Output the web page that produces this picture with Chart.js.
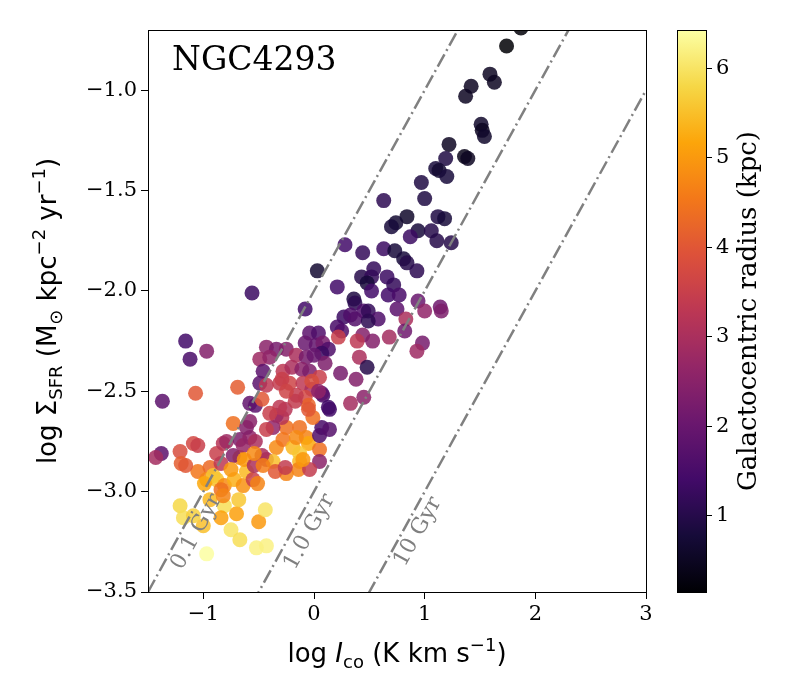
<!DOCTYPE html>
<html lang="en">
<head>
<meta charset="UTF-8">
<title>NGC4293</title>
<style>
  html, body { margin: 0; padding: 0; background: #fff; }
  #wrap { width: 800px; height: 700px; }
</style>
</head>
<body>
<div id="wrap"><canvas id="myChart" width="800" height="700"></canvas></div>
<script src="https://cdn.jsdelivr.net/npm/chart.js"></script>
<script>
// log I_CO, log Sigma_SFR, galactocentric radius (kpc)
var logIco = [
  1.87, 1.74, 1.59, 1.63, 1.42, 1.37, 1.51, 1.52, 1.54, 1.22, 1.19, 1.36, 1.39, 1.10, 1.13, 1.20, 0.97, 1.00, 0.63, 0.84,
  0.74, 0.70, 1.12, 1.18, 0.94, 0.87, 1.06, 1.11, 1.24, 0.28, 0.44, 0.63, 0.73,
  -0.56, 0.03, 0.81, 0.84, 0.93, 0.54, 0.43, 0.52, 0.48, 0.66, 0.72, 0.52, 0.67, 0.77, 0.21, 0.36, 0.37, -0.08, 0.45, 0.49,
  0.58, 0.75, 0.27, 0.33, 0.37, 0.49, 0.21, 0.25, 0.22, 0.94, 1.00, 1.14, 1.15, 0.83, 0.82, 0.68, 0.53, 0.44, 0.39, 0.98,
  0.93, 0.41, 0.48, 0.24, 0.38, 0.45, 0.33, -0.04, 0.04, -0.08, 0.02, 0.08, 0.13, -0.43, -0.34, -0.25, -0.16, -0.49, -0.40,
  -0.07, 0.07, 0.10, -0.46, -0.28, -0.20, -0.11, -0.04, 0.05, -0.49, -0.43, -0.31, -0.22, -0.10, -0.02, 0.08, 0.13, -0.58,
  -0.53, -0.08, -0.05,
  -1.16, -1.12, -0.97, -1.37, -1.07, -0.69, -1.38, -1.43, -1.21, -1.20, -1.09, -1.05, -1.05, -0.94, -0.97, -0.88, -0.82,
  -0.88, -0.91, -0.81, -0.72, -0.64, -0.67, -0.61, -0.55, -0.51, -0.73, -0.73, -0.79, -0.67, -0.64, -0.58, -0.53, -0.61,
  -0.58, -0.47, -0.43, -0.34, -0.37, -0.25, -0.28, -0.19, -0.13, -0.14, -0.25, -0.13, -0.07, -0.05, 0.05, 0.07, 0.05, 0.14,
  -0.01, 0.07, -0.29, -0.37, -0.43, -1.21, -1.18, -1.00, -1.09, -0.94, -0.81, -0.84, -0.70, -0.68, -0.75, -0.67, -0.50,
  -0.44, -0.52, -0.43, -0.97,
  -0.34, -0.26, -0.17, -0.05, -1.16, -0.84, -0.63, -0.75, -0.54, -0.99, -0.84, -0.82, -0.35, -0.26, -0.04, -0.47,
  0.00, -0.29, -0.02, -0.16, -0.25, -0.31, -0.40, 0.05, -0.16, -0.13, -0.10, -0.54, -0.46, 0.04, 0.14
];
var logSfr = [
  -0.69, -0.78, -0.92, -0.96, -0.98, -1.03, -1.17, -1.20, -1.23, -1.27, -1.34, -1.33, -1.34, -1.39, -1.40, -1.43, -1.46, -1.54, -1.55, -1.63,
  -1.66, -1.68, -1.63, -1.64, -1.70, -1.73, -1.70, -1.75, -1.76, -1.77, -1.81, -1.79, -1.80,
  -2.01, -1.90, -1.84, -1.86, -1.90, -1.89, -1.93, -1.93, -1.96, -1.93, -1.97, -2.00, -2.02, -2.02, -1.98, -2.04, -2.06, -2.09, -2.10, -2.10,
  -2.14, -2.09, -2.13, -2.12, -2.14, -2.15, -2.18, -2.20, -2.23, -2.05, -2.10, -2.08, -2.10, -2.14, -2.20, -2.23, -2.25, -2.22, -2.25, -2.26,
  -2.30, -2.33, -2.38, -2.41, -2.44, -2.53, -2.56, -2.21, -2.21, -2.26, -2.27, -2.26, -2.29, -2.28, -2.29, -2.29, -2.32, -2.34, -2.33,
  -2.33, -2.31, -2.36, -2.40, -2.40, -2.38, -2.39, -2.40, -2.43, -2.46, -2.47, -2.46, -2.46, -2.46, -2.49, -2.52, -2.58, -2.56,
  -2.57, -2.53, -2.57,
  -2.25, -2.34, -2.30, -2.55, -2.51, -2.48, -2.81, -2.83, -2.80, -2.86, -2.76, -2.77, -2.90, -2.88, -2.94, -2.81, -2.76,
  -2.94, -2.92, -2.97, -2.94, -2.97, -2.83, -2.90, -2.94, -2.96, -2.66, -2.82, -2.75, -2.74, -2.77, -2.73, -2.75, -2.68,
  -2.65, -2.54, -2.84, -2.78, -2.85, -2.68, -2.74, -2.78, -2.85, -2.89, -2.91, -2.68, -2.73, -2.76, -2.79, -2.68, -2.85, -2.59,
  -2.63, -2.51, -2.63, -2.68, -2.69, -3.07, -3.13, -3.17, -3.12, -3.04, -3.07, -3.13, -3.11, -3.04, -3.19, -3.24, -3.15,
  -3.09, -3.28, -3.27, -3.31,
  -2.62, -2.59, -2.55, -2.59, -2.87, -2.86, -2.84, -2.89, -2.87, -2.96, -2.99, -3.02, -2.90, -2.88, -2.89, -2.82,
  -2.32, -2.44, -2.45, -2.52, -2.50, -2.58, -2.61, -2.72, -2.73, -2.81, -2.84, -2.81, -2.87, -2.50, -2.69
];
var radius = [
  0.2, 0.15, 0.5, 0.5, 0.5, 0.5, 0.6, 0.5, 0.6, 0.5, 0.9, 0.4, 0.5, 0.8, 0.7, 0.8, 0.9, 0.9, 1.1, 0.6,
  0.7, 0.8, 0.9, 0.8, 0.8, 1.3, 1.0, 1.0, 1.0, 1.4, 1.2, 1.3, 0.8,
  1.3, 0.7, 0.8, 1.0, 1.1, 1.2, 1.0, 1.2, 0.8, 1.3, 1.2, 1.4, 1.4, 1.5, 1.4, 0.9, 1.1, 1.4, 1.6, 1.2,
  1.6, 1.8, 1.3, 1.6, 1.7, 1.1, 1.5, 1.6, 3.5, 2.0, 2.6, 2.1, 2.3, 3.0, 2.1, 2.9, 2.4, 2.4, 3.3, 2.2,
  2.8, 3.0, 1.0, 2.2, 2.4, 2.5, 2.9, 1.8, 1.6, 2.0, 1.9, 2.2, 1.6, 2.5, 2.2, 2.4, 3.0, 2.8, 2.6,
  2.2, 1.3, 2.3, 1.8, 3.3, 3.0, 2.5, 2.3, 3.5, 1.8, 3.3, 3.4, 3.6, 3.3, 3.0, 1.5, 1.4, 1.9,
  1.8, 3.7, 4.2,
  1.4, 1.5, 2.4, 1.8, 4.0, 4.1, 1.8, 2.9, 3.8, 4.1, 3.7, 3.5, 4.5, 4.3, 4.7, 3.5, 3.2,
  5.5, 5.6, 4.8, 5.3, 4.9, 4.8, 5.4, 3.5, 4.7, 4.4, 2.4, 2.8, 2.3, 2.7, 2.6, 3.0, 2.4,
  2.5, 4.0, 3.0, 4.8, 5.5, 4.4, 4.5, 5.4, 5.4, 4.7, 4.7, 4.4, 4.7, 5.2, 4.4, 1.5, 2.5, 1.4,
  4.4, 1.8, 3.2, 2.6, 3.5, 5.8, 5.9, 5.5, 5.7, 5.4, 5.9, 5.1, 5.1, 5.6, 6.0, 5.9, 5.0,
  6.0, 6.2, 6.2, 6.4,
  2.8, 3.2, 3.4, 4.0, 4.0, 3.3, 5.0, 5.0, 3.0, 5.2, 4.4, 4.7, 4.0, 3.4, 3.4, 3.0,
  2.0, 3.5, 3.8, 3.4, 3.6, 3.3, 3.5, 1.6, 4.8, 5.6, 5.0, 4.8, 4.6, 2.6, 1.7
];

// constant depletion time lines: log S_SFR = log I_CO - k
var depletionOffset = [2, 3, 4];
var depletionLabels = ['0.1 Gyr', '1.0 Gyr', '10 Gyr'];
var labelX = [-1.06, -0.04, 0.94];
var labelY = [-3.20, -3.20, -3.20];

var xTicks = [-1, 0, 1, 2, 3];
var yTicks = [-3.5, -3.0, -2.5, -2.0, -1.5, -1.0];
var cbarTicks = [1, 2, 3, 4, 5, 6];
var rMin = 0.14, rMax = 6.42;

// inferno, sampled every 0.1
var inferno = [
  [0, 0, 4], [22, 11, 57], [66, 10, 104], [106, 23, 110], [147, 38, 103], [188, 55, 84],
  [221, 81, 58], [243, 120, 25], [252, 165, 10], [246, 215, 70], [252, 255, 164]
];
function cmap(t) {
  t = Math.max(0, Math.min(1, t));
  var s = t * 10, i = Math.min(9, Math.floor(s)), f = s - i;
  var a = inferno[i], b = inferno[i + 1];
  return [0, 1, 2].map(function (k) { return Math.round(a[k] + (b[k] - a[k]) * f); });
}
function rgba(c, al) { return 'rgba(' + c[0] + ',' + c[1] + ',' + c[2] + ',' + al + ')'; }

var points = logIco.map(function (x, i) { return { x: x, y: logSfr[i] }; });
var colors = radius.map(function (r) { return rgba(cmap((r - rMin) / (rMax - rMin)), 0.85); });

var lineSets = depletionOffset.map(function (k) {
  return {
    type: 'line',
    data: [{ x: -1.5, y: -1.5 - k }, { x: 3, y: 3 - k }],
    borderColor: '#808080',
    borderWidth: 2.5,
    borderDash: [14, 4, 2, 4],
    pointRadius: 0,
    fill: false,
    order: 0
  };
});

function fmt(v) { return String(v).replace('-', '\u2212'); }

function drawRich(ctx, parts, x, y) {
  var w = 0;
  parts.forEach(function (p) { ctx.font = p.f; p.w = ctx.measureText(p.t).width; w += p.w; });
  var cx = x - w / 2;
  parts.forEach(function (p) { ctx.font = p.f; ctx.fillText(p.t, cx, y + (p.dy || 0)); cx += p.w; });
}

var SANS = '"DejaVu Sans"', SERIF = '"DejaVu Serif"';

var extras = {
  id: 'extras',
  afterDatasetsDraw: function (chart) {
    var ctx = chart.ctx, a = chart.chartArea, xs = chart.scales.x, ys = chart.scales.y;
    ctx.save();
    // frame
    ctx.strokeStyle = '#000';
    ctx.lineWidth = 1;
    ctx.strokeRect(a.left + 0.5, a.top + 0.5, a.right - a.left, a.bottom - a.top);

    // depletion time labels
    var slope = (ys.getPixelForValue(-3) - ys.getPixelForValue(-2)) / (xs.getPixelForValue(0) - xs.getPixelForValue(1));
    var ang = -Math.atan(Math.abs(slope));
    ctx.fillStyle = '#808080';
    ctx.font = '22px ' + SERIF;
    ctx.textAlign = 'center';
    ctx.textBaseline = 'middle';
    depletionLabels.forEach(function (t, i) {
      ctx.save();
      ctx.translate(xs.getPixelForValue(labelX[i]), ys.getPixelForValue(labelY[i]));
      ctx.rotate(ang);
      ctx.fillText(t, 0, 0);
      ctx.restore();
    });

    // galaxy name
    ctx.fillStyle = '#000';
    ctx.textAlign = 'left';
    ctx.textBaseline = 'alphabetic';
    ctx.font = '33px ' + SERIF;
    ctx.fillText('NGC4293', a.left + 24, a.top + 40);

    // axis labels
    var big = '26px ' + SANS, sm = '18px ' + SANS;
    drawRich(ctx, [
      { t: 'log ', f: big },
      { t: 'I', f: 'italic ' + big },
      { t: 'co', f: sm, dy: 6 },
      { t: ' (K km s', f: big },
      { t: '\u22121', f: sm, dy: -11 },
      { t: ')', f: big }
    ], (a.left + a.right) / 2, 662);

    ctx.save();
    ctx.translate(47, (a.top + a.bottom) / 2);
    ctx.rotate(-Math.PI / 2);
    drawRich(ctx, [
      { t: 'log \u03a3', f: big },
      { t: 'SFR', f: sm, dy: 6 },
      { t: ' (M', f: big },
      { t: '\u2299', f: sm, dy: 6 },
      { t: ' kpc', f: big },
      { t: '\u22122', f: sm, dy: -11 },
      { t: ' yr', f: big },
      { t: '\u22121', f: sm, dy: -11 },
      { t: ')', f: big }
    ], 0, 9);
    ctx.restore();

    // colorbar
    var cb = { left: 677, right: 706, top: a.top, bottom: a.bottom };
    var g = ctx.createLinearGradient(0, cb.bottom, 0, cb.top);
    for (var k = 0; k <= 20; k++) g.addColorStop(k / 20, rgba(cmap(k / 20), 1));
    ctx.fillStyle = g;
    ctx.fillRect(cb.left, cb.top, cb.right - cb.left, cb.bottom - cb.top);
    ctx.strokeStyle = '#000';
    ctx.strokeRect(cb.left + 0.5, cb.top + 0.5, cb.right - cb.left, cb.bottom - cb.top);
    ctx.fillStyle = '#000';
    ctx.font = '21px ' + SERIF;
    ctx.textBaseline = 'middle';
    ctx.textAlign = 'left';
    cbarTicks.forEach(function (v) {
      var py = Math.round(cb.bottom - (v - rMin) / (rMax - rMin) * (cb.bottom - cb.top)) + 0.5;
      ctx.beginPath();
      ctx.moveTo(cb.right, py);
      ctx.lineTo(cb.right + 6, py);
      ctx.stroke();
      ctx.fillText(String(v), cb.right + 10, py);
    });
    ctx.save();
    ctx.translate(749, (cb.top + cb.bottom) / 2);
    ctx.rotate(-Math.PI / 2);
    ctx.textAlign = 'center';
    ctx.font = '26px ' + SERIF;
    ctx.fillText('Galactocentric radius (kpc)', 0, 0);
    ctx.restore();
    ctx.restore();
  }
};

var ctx = document.getElementById('myChart');
var myChart = new Chart(ctx, {
  type: 'scatter',
  data: {
    datasets: lineSets.concat([{
      type: 'scatter',
      data: points,
      backgroundColor: colors,
      borderWidth: 0,
      pointRadius: 7.5,
      pointHoverRadius: 7.5,
      order: 1
    }])
  },
  options: {
    responsive: false,
    animation: false,
    events: [],
    layout: { padding: { top: 30, right: 154, left: 0, bottom: 0 } },
    plugins: { legend: { display: false }, tooltip: { enabled: false } },
    scales: {
      x: {
        type: 'linear', min: -1.5, max: 3,
        afterFit: function (s) { s.height = 108; },
        afterBuildTicks: function (s) { s.ticks = xTicks.map(function (v) { return { value: v }; }); },
        ticks: { color: '#000', font: { family: 'DejaVu Serif', size: 21 }, padding: 3, maxRotation: 0,
          callback: function (v) { return fmt(v); } },
        grid: { drawOnChartArea: false, color: '#000', tickLength: 7 },
        border: { color: '#000' }
      },
      y: {
        type: 'linear', min: -3.5, max: -0.7,
        afterFit: function (s) { s.width = 148; },
        afterBuildTicks: function (s) { s.ticks = yTicks.map(function (v) { return { value: v }; }); },
        ticks: { color: '#000', font: { family: 'DejaVu Serif', size: 21 }, padding: 4,
          callback: function (v) { return fmt(v.toFixed(1)); } },
        grid: { drawOnChartArea: false, color: '#000', tickLength: 7 },
        border: { color: '#000' }
      }
    }
  },
  plugins: [extras]
});
</script>
</body>
</html>
